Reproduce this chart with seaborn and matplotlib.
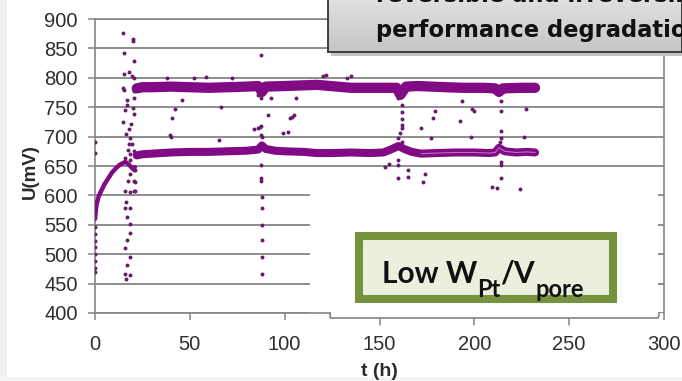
import numpy as np
import pandas as pd
import seaborn as sns
import matplotlib.pyplot as plt
from matplotlib.patches import Rectangle
from matplotlib.colors import LinearSegmentedColormap

# Start-up ramp of the cell voltage (t in h, U in mV)
warmup_t = [0, 0.5, 1, 2, 3.5, 5, 7, 9, 11, 13, 16, 18, 20, 21]
warmup_u = [560, 577, 587, 599, 609, 619, 629, 639, 646, 652, 657, 652, 645, 648]

# Lower voltage level after start-up
lower_t = [22, 25, 30, 40, 50, 60, 70, 80, 86, 88, 90, 95, 100, 110, 117, 125, 135,
           145, 152, 156, 160, 163, 167, 172, 180, 190, 200, 208, 211, 213, 216, 222,
           228, 232]
lower_u = [668, 670, 671, 673, 674, 674, 675, 676, 678, 685, 679, 676, 675, 674, 672,
           672, 673, 672, 673, 678, 684, 679, 674, 671, 672, 673, 673, 672, 673, 681,
           675, 673, 674, 673]

# Upper voltage level after start-up
upper_t = [22, 25, 30, 40, 50, 60, 70, 80, 86, 88, 90, 100, 117, 135, 150, 159, 161,
           164, 170, 185, 194, 205, 211, 213, 215, 225, 232]
upper_u = [782, 784, 784, 785, 784, 783, 784, 785, 786, 776, 785, 786, 788, 783, 783,
           783, 771, 785, 786, 784, 783, 783, 782, 776, 782, 783, 783]

# Isolated readings around the load changes
outlier_t = [15, 15.5, 19.8, 19.8, 20.3, 15.5, 18.1, 19.3, 20.8, 15, 15.5, 20.3, 20.3,
             16.9, 16.9, 19.8, 16, 20.3, 15, 18.8, 18.1, 16.4, 18.4, 18.1, 19.3, 17.3,
             20.3, 18.4, 16, 18.4, 20.3, 21.2, 18.4, 17.6, 20.3, 21.2, 16, 18.4, 20.3,
             21.2, 16.4, 16, 18.4, 16.9, 18.4, 18.4, 16.9, 16, 18.4, 16.9, 16, 18.4, 16.4,
             0, 0, 0, 0, 0, 0, 0, 0, 0, 0,
             87.5, 87.5, 86, 92.8, 87, 87.5, 87.5, 88, 87.5, 87.5, 87.5, 87.8, 87.8,
             87.8, 87.8, 87.8, 87.8, 84, 86,
             38, 42.4, 40.7, 39.8, 40.1, 46, 52, 58.3, 66.3, 65.4, 72.4,
             106, 91, 103, 104, 105, 99, 101.6, 120, 122, 133, 135,
             160, 162, 162, 162, 162, 162, 161, 160, 162, 172, 179.3, 178.4, 177, 192.6,
             193.5, 199, 200, 198, 213.8, 213.8, 213.8, 213.8, 213.4, 214, 214, 226,
             227, 214.7, 153, 155, 160, 159.5, 165, 160, 165, 174, 173, 209.5, 212, 224,
             214]
outlier_u = [876, 843, 866, 862, 828, 806, 810, 803, 799, 782, 779, 766, 777,
             763, 754, 749, 745, 738, 724, 722, 713, 704, 698, 688, 687, 678,
             675, 671, 664, 661, 644, 644, 636, 625, 625, 622, 608, 606, 608,
             608, 589, 578, 578, 564, 551, 536, 524, 511, 496, 482, 466, 464, 457,
             690, 672, 546, 534, 523, 512, 500, 488, 476, 470,
             838, 765, 770, 766, 716, 718, 703, 700, 651, 630, 624, 598, 578,
             550, 524, 496, 466, 713, 715,
             799, 747, 731, 703, 700, 763, 799, 802, 751, 695, 799,
             766, 736, 731, 734, 736, 706, 707, 803, 805, 800, 803,
             766, 754, 742, 730, 720, 714, 706, 697, 691, 714, 744, 731, 698, 726,
             760, 747, 744, 700, 760, 744, 709, 697, 691, 657, 651, 700,
             747, 843, 649, 654, 651, 660, 643, 629, 631, 637, 623, 614, 612, 611,
             629]

x_ticks = [0, 50, 100, 150, 200, 250, 300]
y_ticks = [400, 450, 500, 550, 600, 650, 700, 750, 800, 850, 900]

W, H = 682, 381
PURPLE = '#820a84'
GRID = '#858585'

sns.set_theme(style='white')
plt.rcParams['font.family'] = ['Liberation Sans', 'DejaVu Sans']


def fx(x):
    return x / W


def fy(y):
    return 1 - y / H


fig = plt.figure(figsize=(W / 100, H / 100), dpi=100)
fig.patch.set_facecolor('white')

# faint frame of the slide
fig.add_artist(Rectangle((0, 0), fx(7), 1, transform=fig.transFigure,
                         facecolor='#f1f1f1', edgecolor='none', zorder=-5))
fig.add_artist(Rectangle((0, 0), 1, fy(377), transform=fig.transFigure,
                         facecolor='#f4f4f4', edgecolor='none', zorder=-5))

ax = fig.add_axes([fx(95), fy(313), fx(664) - fx(95), fy(19) - fy(313)])
ax.set_facecolor('none')

warm = pd.DataFrame({'t': warmup_t, 'U': warmup_u})
low = pd.DataFrame({'t': lower_t, 'U': lower_u})
up = pd.DataFrame({'t': upper_t, 'U': upper_u})
out = pd.DataFrame({'t': outlier_t, 'U': outlier_u})

sns.lineplot(data=warm, x='t', y='U', ax=ax, color=PURPLE, lw=3.2,
             estimator=None, zorder=3)
sns.lineplot(data=low, x='t', y='U', ax=ax, color=PURPLE, lw=5.8,
             estimator=None, zorder=3)
sns.lineplot(data=low[low['t'] >= 168], x='t', y='U', ax=ax, color='#c98ccc',
             lw=0.8, estimator=None, zorder=3.5, alpha=0.8)
sns.lineplot(data=up, x='t', y='U', ax=ax, color=PURPLE, lw=7.4,
             estimator=None, zorder=3)
sns.scatterplot(data=out, x='t', y='U', ax=ax, color='#6a1a6c', s=8,
                linewidth=0, zorder=3)

ax.set_xlim(0, 300)
ax.set_ylim(400, 900)
ax.set_xticks(x_ticks)
ax.set_yticks(y_ticks)
ax.set_axisbelow(True)
ax.yaxis.grid(True, color=GRID, lw=1.3)
ax.xaxis.grid(False)
for side in ['left', 'right', 'bottom', 'top']:
    ax.spines[side].set_color(GRID)
    ax.spines[side].set_linewidth(1.2)
ax.spines['bottom'].set_bounds(0, 124)
ax.tick_params(axis='both', which='major', direction='out', length=5, width=1.1,
               color=GRID, labelsize=14.5, labelcolor='#2e2e2e')
ax.tick_params(axis='y', pad=7.5, left=True)
ax.tick_params(axis='x', pad=11, bottom=True)

ax.set_xlabel('t (h)', fontsize=14, fontweight='bold', color='#2a2a2a', labelpad=6)
ax.set_ylabel('U(mV)', fontsize=13.5, fontweight='bold', color='#2a2a2a')
ax.yaxis.set_label_coords(-0.099, 0.48)

# pasted panel hiding the lower right grid area
ax.add_patch(Rectangle((113.4, 384), 296.9 - 113.4, 605.8 - 384, facecolor='white',
                       edgecolor='none', zorder=1.5, clip_on=False))
ax.plot([124, 124, 296.9, 297.6], [400, 391.5, 391.5, 400], color=GRID, lw=1.2,
        clip_on=False, zorder=2.6)
for xt in x_ticks[3:6]:
    ax.plot([xt, xt], [391.5, 380], color=GRID, lw=1.1, clip_on=False, zorder=2.6)

# grey caption box at the top, with a soft vertical gradient and a drop shadow
fig.add_artist(Rectangle((fx(331), fy(56)), 1.0, 0.3, transform=fig.transFigure,
                         facecolor='#c4c4c4', edgecolor='none', zorder=8))
gax = fig.add_axes([fx(328), fy(52), 1 - fx(328), fy(-2) - fy(52)], zorder=9)
grey_cmap = LinearSegmentedColormap.from_list('capgrey', ['#e0e0e0', '#c6c6c6'])
gax.imshow(np.linspace(0, 1, 64).reshape(-1, 1), aspect='auto', cmap=grey_cmap,
           extent=(0, 1, 0, 1), origin='upper')
gax.set_xlim(0, 1)
gax.set_ylim(0, 1)
gax.set_xticks([])
gax.set_yticks([])
for side in gax.spines.values():
    side.set_color('#333333')
    side.set_linewidth(1.3)
cap_kw = dict(fontfamily='DejaVu Sans', fontweight='bold', fontsize=16.3,
              va='baseline', ha='left', color='#111111', zorder=11)
fig.text(fx(376), fy(2), 'reversible and irreversible', **cap_kw)
fig.text(fx(376), fy(37), 'performance degradation', **cap_kw)

# green label box
fig.add_artist(Rectangle((fx(359), fy(299)), fx(613) - fx(359), fy(236) - fy(299),
                         transform=fig.transFigure, facecolor='#ebf0de',
                         edgecolor='#77923c', lw=5.8, zorder=10))

# "Low W_Pt / V_pore" set piece by piece with deep subscripts
renderer = fig.canvas.get_renderer()
pieces = [('Low W', 21.5, 283), ('Pt', 17, 297), ('/V', 21.5, 283), ('pore', 17, 297)]
x_px = 382
for txt, size, base in pieces:
    t = fig.text(fx(x_px), fy(base), txt, fontfamily='Lato', fontweight='bold',
                 fontsize=size, va='baseline', ha='left', color='#111111', zorder=11)
    x_px += t.get_window_extent(renderer).width

fig.savefig('out.png', dpi=100)
